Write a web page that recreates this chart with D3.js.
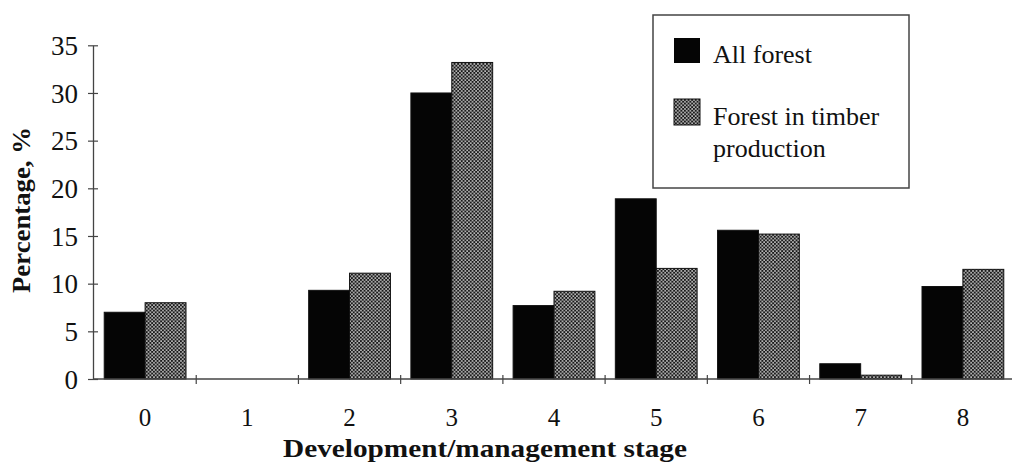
<!DOCTYPE html>
<html><head><meta charset="utf-8">
<script src="https://cdn.jsdelivr.net/npm/d3@7"></script>
<style>body{margin:0;background:#fff}svg{display:block}text{font-family:"Liberation Serif","Times New Roman",serif;fill:#111}</style>
</head><body><svg id="c" width="1012" height="472"></svg>
<script>
const categories = ["0","1","2","3","4","5","6","7","8"];
const allForest = [7.0, 0, 9.3, 30.0, 7.7, 18.9, 15.6, 1.6, 9.7];
const timberForest = [8.0, 0, 11.1, 33.2, 9.2, 11.6, 15.2, 0.4, 11.5];
const yTicks = [0,5,10,15,20,25,30,35];
const seriesNames = ["All forest", "Forest in timber", "production"];

const svg = d3.select("#c");
const defs = svg.append("defs");
const pat = defs.append("pattern").attr("id","dots").attr("patternUnits","userSpaceOnUse").attr("width",3.6).attr("height",3.6);
pat.append("rect").attr("width",3.6).attr("height",3.6).attr("fill","#1a1a1a");
pat.append("rect").attr("x",0.2).attr("y",0.2).attr("width",1.5).attr("height",1.5).attr("fill","#e8e8e8");
pat.append("rect").attr("x",2.0).attr("y",2.0).attr("width",1.5).attr("height",1.5).attr("fill","#e8e8e8");

const x0 = 93, yBase = 379;
const x = d3.scaleBand().domain(categories).range([94, 1014]).paddingInner(0.2).paddingOuter(0.1);
const xs = d3.scaleBand().domain([0,1]).range([0, x.bandwidth()]);
const y = d3.scaleLinear().domain([0,35]).range([yBase, 45.3]);

// bars
categories.forEach((c,i)=>{
  [allForest[i], timberForest[i]].forEach((v,k)=>{
    if (v <= 0) return;
    svg.append("rect")
      .attr("x", x(c)+xs(k)).attr("y", y(v))
      .attr("width", xs.bandwidth()).attr("height", y(0)-y(v))
      .attr("fill", k===0 ? "#050505" : "url(#dots)")
      .attr("stroke","#111").attr("stroke-width",1);
  });
});

// y axis
const ya = svg.append("g").attr("transform",`translate(${x0},0)`)
  .call(d3.axisLeft(y).tickValues(yTicks).tickSizeInner(5).tickSizeOuter(0).tickPadding(10));
ya.select(".domain").attr("stroke","#444").attr("stroke-width",1.3);
ya.selectAll(".tick line").attr("stroke","#444").attr("x2",5).attr("x1",-5).attr("stroke-width",1.2);
ya.selectAll(".tick text").attr("font-size",27).attr("x",-15).attr("dy","0.34em").attr("fill","#111")
  .style("font-family",'"Liberation Serif",serif');

// x axis
svg.append("line").attr("x1",x0).attr("x2",1012).attr("y1",yBase).attr("y2",yBase).attr("stroke","#444").attr("stroke-width",1.3);
const bounds = categories.slice(1).map(c => x(c) - x.step()*x.paddingInner()/2);
svg.selectAll(".xt").data(bounds).enter().append("line")
  .attr("x1",d=>d).attr("x2",d=>d).attr("y1",yBase-4).attr("y2",yBase+5).attr("stroke","#444").attr("stroke-width",1.2);
svg.selectAll(".xl").data(categories).enter().append("text")
  .attr("x",d=>x(d)+x.bandwidth()/2).attr("y",426).attr("text-anchor","middle").attr("font-size",25).text(d=>d);

// axis titles
svg.append("text").attr("x",485).attr("y",457).attr("text-anchor","middle").attr("font-size",25)
  .attr("font-weight","bold").attr("textLength",404).attr("lengthAdjust","spacingAndGlyphs").text("Development/management stage");
svg.append("text").attr("transform","translate(30,210) rotate(-90)").attr("text-anchor","middle").attr("font-size",25)
  .attr("font-weight","bold").attr("textLength",166).attr("lengthAdjust","spacingAndGlyphs").text("Percentage, %");

// legend
svg.append("rect").attr("x",653).attr("y",15).attr("width",256).attr("height",173).attr("fill","#fff").attr("stroke","#444").attr("stroke-width",1.5);
svg.append("rect").attr("x",674).attr("y",38).attr("width",26).attr("height",25).attr("fill","#050505");
svg.append("rect").attr("x",674).attr("y",99).attr("width",26).attr("height",26).attr("fill","url(#dots)").attr("stroke","#111");
svg.append("text").attr("x",713).attr("y",63).attr("font-size",26).text(seriesNames[0]);
svg.append("text").attr("x",713).attr("y",125).attr("font-size",26).text(seriesNames[1]);
svg.append("text").attr("x",713).attr("y",157).attr("font-size",26).text(seriesNames[2]);
</script></body></html>
